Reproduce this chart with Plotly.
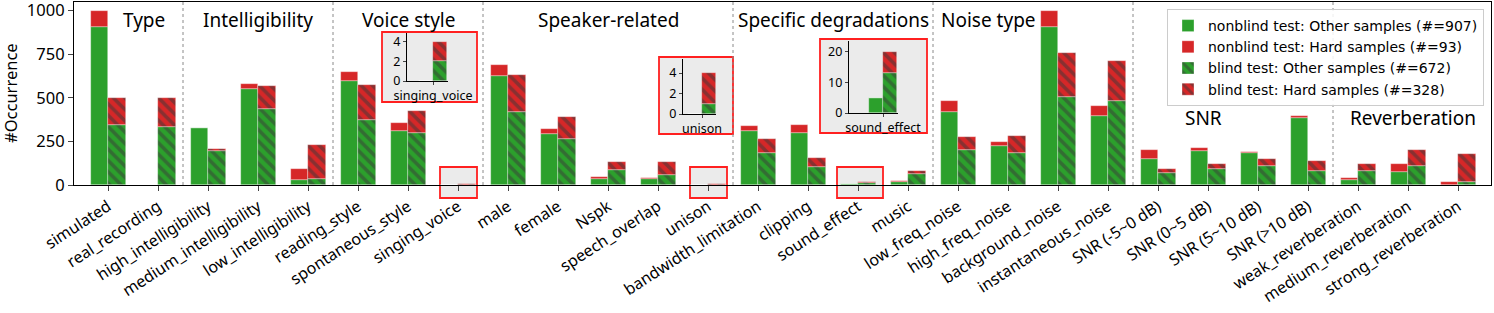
import plotly.graph_objects as go

categories = ["simulated", "real_recording", "high_intelligibility", "medium_intelligibility",
              "low_intelligibility", "reading_style", "spontaneous_style", "singing_voice",
              "male", "female", "Nspk", "speech_overlap", "unison", "bandwidth_limitation",
              "clipping", "sound_effect", "music", "low_freq_noise", "high_freq_noise",
              "background_noise", "instantaneous_noise", "SNR (-5~0 dB)", "SNR (0~5 dB)",
              "SNR (5~10 dB)", "SNR (>10 dB)", "weak_reverberation", "medium_reverberation",
              "strong_reverberation"]
nonblind_other = [907, 0, 325, 551, 31, 598, 312, 0, 623, 294, 36, 36, 0, 308, 300, 5, 15,
                  419, 226, 906, 398, 151, 193, 184, 382, 29, 73, 0]
nonblind_hard = [93, 0, 0, 30, 63, 48, 45, 0, 67, 29, 10, 6, 0, 30, 46, 0, 6,
                 65, 19, 94, 53, 50, 21, 7, 16, 13, 46, 15]
blind_other = [342, 330, 197, 438, 37, 375, 296, 2, 417, 266, 84, 55, 1, 184, 103, 13, 65,
               199, 182, 505, 480, 67, 90, 107, 78, 82, 107, 17]
blind_hard = [158, 170, 9, 130, 194, 201, 128, 2, 214, 122, 46, 79, 3, 80, 52, 7, 17,
              76, 99, 252, 233, 27, 32, 44, 60, 37, 94, 161]

legend_names = ["nonblind test: Other samples (#=907)", "nonblind test: Hard samples (#=93)",
                "blind test: Other samples (#=672)", "blind test: Hard samples (#=328)"]

group_titles = ["Type", "Intelligibility", "Voice style", "Speaker-related",
                "Specific degradations", "Noise type", "SNR", "Reverberation"]
group_title_x = [0.72, 3.0, 6.0, 10.0, 14.5, 17.6, 21.9, 26.1]
group_title_row = [0, 0, 0, 0, 0, 0, 1, 1]
separators = [1.5, 4.5, 7.5, 12.5, 16.5, 20.5, 24.5]
inset_idx = [7, 12, 15]

GREEN = "#2ca02c"
RED = "#d62728"
HATCH = "#3a3a3a"
FONT = "Noto Sans"

W, H = 1494, 313
L, R, T, B = 74, 3, 2, 128
PW, PH = W - L - R, H - T - B


def px_x(px):
    return (px - L) / PW


def px_y(py):
    return (H - B - py) / PH


fig = go.Figure()
x = list(range(len(categories)))
edge = dict(width=0.6, color="rgba(255,255,255,0.55)")
pat = dict(shape="\\", fgcolor=HATCH, size=8, solidity=0.45, fillmode="overlay")


def add_bars(xs, ax, ay, idxs, show):
    no = [nonblind_other[i] for i in idxs]
    nh = [nonblind_hard[i] for i in idxs]
    bo = [blind_other[i] for i in idxs]
    bh = [blind_hard[i] for i in idxs]
    fig.add_trace(go.Bar(x=xs, y=no, width=0.35, offset=-0.35, marker=dict(color=GREEN, line=edge),
                         name=legend_names[0], showlegend=show, xaxis=ax, yaxis=ay))
    fig.add_trace(go.Bar(x=xs, y=nh, base=no, width=0.35, offset=-0.35,
                         marker=dict(color=RED, line=edge),
                         name=legend_names[1], showlegend=show, xaxis=ax, yaxis=ay))
    fig.add_trace(go.Bar(x=xs, y=bo, width=0.35, offset=0,
                         marker=dict(color=GREEN, line=edge, pattern=pat),
                         name=legend_names[2], showlegend=show, xaxis=ax, yaxis=ay))
    fig.add_trace(go.Bar(x=xs, y=bh, base=bo, width=0.35, offset=0,
                         marker=dict(color=RED, line=edge, pattern=pat),
                         name=legend_names[3], showlegend=show, xaxis=ax, yaxis=ay))


add_bars(x, "x", "y", x, True)

# insets: (axis px box: x0,x1,ybottom,ytop), xrange, yrange, yticks, outer box px
inset_specs = [
    ((407, 448, 81, 33), [-0.65, 0.375], [0, 4.9], [0, 2, 4], (382, 477, 32, 102)),
    ((683, 716, 114, 59), [-0.475, 0.35], [0, 5.37], [0, 2, 4], (659, 733, 57, 134)),
    ((849, 898, 113, 41), [-0.85, 0.375], [0, 23.6], [0, 10, 20], (820, 927, 39, 133)),
]
small_boxes = [(440, 477), (690, 727), (837, 883)]

shapes = []
for k, (ci, spec) in enumerate(zip(inset_idx, inset_specs)):
    (ax0, ax1, ayb, ayt), xr, yr, yt, (bx0, bx1, by0, by1) = spec
    n = k + 2
    add_bars([0], f"x{n}", f"y{n}", [ci], False)
    fig.update_layout(**{
        f"xaxis{n}": dict(domain=[px_x(ax0), px_x(ax1)], anchor=f"y{n}", range=xr,
                          tickvals=[0], ticktext=[categories[ci]], ticks="outside", ticklen=3,
                          showline=True, linecolor="black", linewidth=1.2, showgrid=False,
                          zeroline=False, automargin=False, ticklabeloverflow="allow",
                          tickfont=dict(size=12.5, family=FONT, color="black")),
        f"yaxis{n}": dict(domain=[px_y(ayb), px_y(ayt)], anchor=f"x{n}", range=yr,
                          tickvals=yt, ticks="outside", ticklen=3, showline=True,
                          linecolor="black", linewidth=1.2, showgrid=False, zeroline=False,
                          automargin=False, ticklabeloverflow="allow",
                          tickfont=dict(size=12.5, family=FONT, color="black")),
    })
    shapes.append(dict(type="rect", xref="paper", yref="paper", x0=px_x(bx0), x1=px_x(bx1),
                       y0=px_y(by1), y1=px_y(by0), fillcolor="#ebebeb",
                       line=dict(color="#ff2020", width=1.8), layer="below"))
    sx0, sx1 = small_boxes[k]
    shapes.append(dict(type="rect", xref="paper", yref="paper", x0=px_x(sx0), x1=px_x(sx1),
                       y0=px_y(198), y1=px_y(167), fillcolor="#ebebeb",
                       line=dict(color="#ff2020", width=1.8), layer="below"))

for s in separators:
    shapes.append(dict(type="line", xref="x", yref="paper", x0=s, x1=s, y0=0, y1=1,
                       line=dict(color="#8a8a8a", width=1, dash="dot"), layer="below"))

annotations = []
for t, gx, row in zip(group_titles, group_title_x, group_title_row):
    annotations.append(dict(text=t, x=gx, xref="x", y=px_y(20 if row == 0 else 118), yref="paper",
                            showarrow=False, xanchor="center", yanchor="middle",
                            font=dict(size=19, family=FONT, color="black")))
annotations.append(dict(text="#Occurrence", x=px_x(10.5), xref="paper", y=0.5, yref="paper",
                        textangle=-90, showarrow=False, xanchor="center", yanchor="middle",
                        font=dict(size=16.5, family=FONT, color="black")))

fig.update_layout(
    width=W, height=H, margin=dict(l=L, r=R, t=T, b=B, pad=0, autoexpand=False),
    barmode="overlay", bargap=0,
    paper_bgcolor="white", plot_bgcolor="rgba(0,0,0,0)",
    font=dict(family=FONT, color="black"),
    xaxis=dict(range=[-0.68, 27.66], tickvals=x, ticktext=categories, tickangle=-33,
               ticks="outside", ticklen=5, showline=True, mirror=True, linecolor="black",
               linewidth=1.2, showgrid=False, zeroline=False, automargin=False,
               ticklabeloverflow="allow",
               tickfont=dict(size=16, family=FONT, color="black")),
    yaxis=dict(range=[0, 1050], tickvals=[0, 250, 500, 750, 1000], ticks="outside", ticklen=5,
               showline=True, mirror=True, linecolor="black", linewidth=1.2, showgrid=False,
               zeroline=False, automargin=False, ticklabeloverflow="allow",
               tickfont=dict(size=16.5, family=FONT, color="black")),
    legend=dict(x=px_x(1167), y=px_y(9), xanchor="left", yanchor="top",
                bgcolor="rgba(255,255,255,0.85)", bordercolor="#cccccc", borderwidth=1,
                font=dict(size=14, family="DejaVu Sans", color="black"), tracegroupgap=0),
    shapes=shapes, annotations=annotations,
)

fig.write_html("out.html", config={"displayModeBar": False},
               post_script="document.body.style.margin='0px';document.body.style.padding='0px';")
